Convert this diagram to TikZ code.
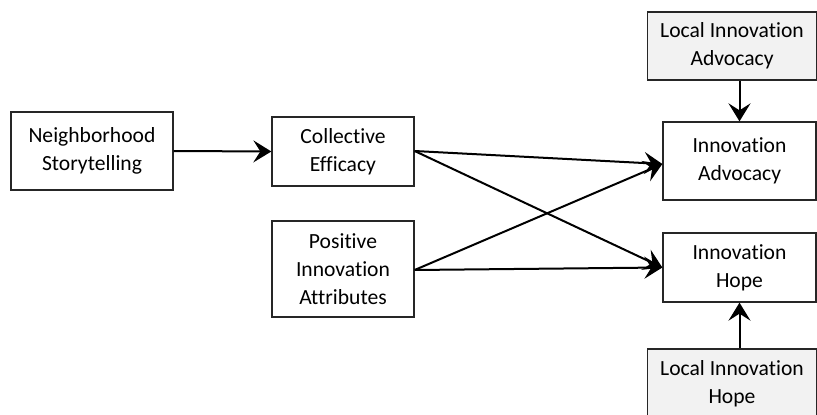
\documentclass[tikz,border=0pt]{standalone}
\usepackage{fontspec}
\setmainfont{Carlito}[Ligatures={NoCommon}]
\usetikzlibrary{arrows.meta}
\definecolor{boxgray}{HTML}{F2F2F2}
\begin{document}
\begin{tikzpicture}[x=1pt,y=-1pt,
  box/.style={draw=black!85, line width=1.3pt, rectangle, inner sep=0pt,
    align=center, font=\fontsize{21.6}{28}\selectfont},
  shaded/.style={box, fill=boxgray},
  link/.style={line width=2pt, -{Stealth[length=18pt,width=22pt,inset=7pt]}}]
\useasboundingbox (0,0) rectangle (817,415);
\clip (0,0) rectangle (817,415);
% model variables
\node[box, minimum width=162pt, minimum height=78pt] (ns) at (92,151) {Neighborhood\\Storytelling};
\node[box, minimum width=142pt, minimum height=69pt] (ce) at (343,151.5) {Collective\\Efficacy};
\node[box, minimum width=142pt, minimum height=96pt] (pia) at (343,269) {Positive\\Innovation\\Attributes};
\node[box, minimum width=153pt, minimum height=78pt] (ia) at (739.5,161) {Innovation\\Advocacy};
\node[box, minimum width=153pt, minimum height=69pt] (ih) at (739.5,267.5) {Innovation\\Hope};
% local controls
\node[shaded, minimum width=169pt, minimum height=68pt] (lia) at (732,46) {Local Innovation\\Advocacy};
\node[shaded, minimum width=169pt, minimum height=70pt] (lih) at (732,384) {Local Innovation\\Hope};
% paths
\coordinate (ceout) at ([yshift=0.5pt]ce.east);
\coordinate (piaout) at ([yshift=-1pt]pia.east);
\coordinate (iain) at ([yshift=-3pt]ia.west);
\draw[link] (ns.east) -- (ce.west);
\draw[link] (ceout) -- (iain);
\draw[link] (ceout) -- (ih.west);
\draw[link] (piaout) -- (iain);
\draw[link] (piaout) -- (ih.west);
\draw[link] (lia.south -| ia.north) -- (ia.north);
\draw[link] (lih.north -| ih.south) -- (ih.south);
\end{tikzpicture}
\end{document}
